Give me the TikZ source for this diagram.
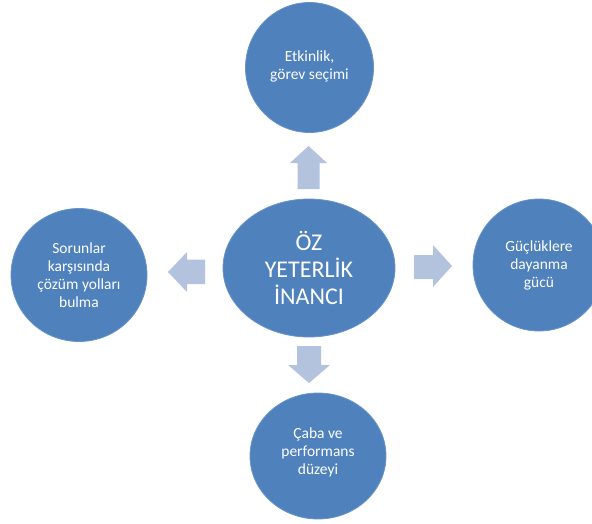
\documentclass[tikz,border=0pt]{standalone}
\usepackage{fontspec}
\setmainfont{Carlito}
\usetikzlibrary{shapes.geometric}
\definecolor{circblue}{HTML}{4F81BD}
\definecolor{arrblue}{HTML}{B3C3DE}
\tikzset{
  bubble/.style={ellipse, fill=circblue, draw=circblue!85!white, line width=0.8pt, text=white, align=center, inner sep=0pt,
    font=\fontsize{15.5}{18}\selectfont},
  centerbubble/.style={bubble, font=\fontsize{24}{27}\selectfont},
  blockarrow/.style={fill=arrblue, draw=none}
}
\begin{document}
\begin{tikzpicture}[x=1pt,y=-1pt]
\useasboundingbox (0,0) rectangle (592,523);
\clip (0,0) rectangle (592,523);
% nodes
\node[centerbubble, minimum width=172pt, minimum height=138pt] (c) at (309,268) {ÖZ\\YETERLİK\\İNANCI};
\node[bubble, minimum width=128pt, minimum height=130pt] (t) at (309.5,67.5) {\mbox{}\\[-10pt]Etkinlik,\\görev seçimi};
\node[bubble, minimum width=136pt, minimum height=133pt] (l) at (79,275) {Sorunlar\\karşısında\\çözüm yolları\\bulma};
\node[bubble, minimum width=132pt, minimum height=132pt] (r) at (539,265) {Güçlüklere\\dayanma\\gücü};
\node[bubble, minimum width=136pt, minimum height=126pt] (b) at (318,456) {\mbox{}\\[-14pt]Çaba ve\\performans\\düzeyi};
% block arrows
\fill[blockarrow] (308.5,146) -- (327,163) -- (319.5,163) -- (319.5,189) -- (297.5,189) -- (297.5,163) -- (290,163) -- cycle;
\fill[blockarrow] (309,383) -- (330,365) -- (321,365) -- (321,346) -- (297,346) -- (297,365) -- (288,365) -- cycle;
\fill[blockarrow] (168,272) -- (187,252) -- (187,259.5) -- (205,259.5) -- (205,284) -- (187,284) -- (187,292) -- cycle;
\fill[blockarrow] (452,266) -- (433,245) -- (433,255) -- (414,255) -- (414,279) -- (433,279) -- (433,287) -- cycle;
\end{tikzpicture}
\end{document}
